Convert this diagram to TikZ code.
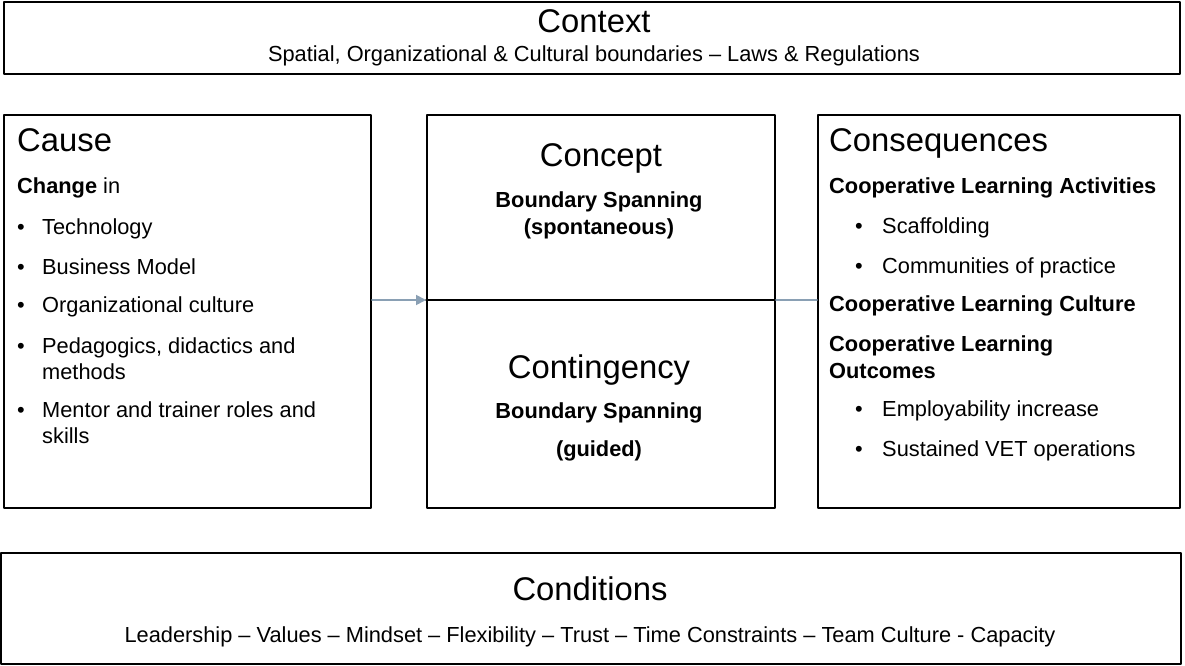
\documentclass[tikz,border=0pt]{standalone}
\usepackage{fontspec}
\setmainfont{Liberation Sans}
\usetikzlibrary{arrows.meta}
\definecolor{linkgray}{RGB}{138,160,180}
\newcommand{\titlesize}{\fontsize{32.8}{38}\selectfont}
\newcommand{\bodysize}{\fontsize{21.8}{25}\selectfont}

\begin{document}
\begin{tikzpicture}[line cap=round,line join=round,x=1pt,y=-1pt,
  box/.style={draw=black,line width=2pt,inner sep=0pt},
  txt/.style={inner sep=0pt,anchor=base west,font=\bodysize},
  ctxt/.style={inner sep=0pt,anchor=base,font=\bodysize},
  head/.style={inner sep=0pt,font=\titlesize}]
\useasboundingbox (0,0) rectangle (1185,666);
% boxes
\node[box,minimum width=1176,minimum height=72] (context) at (592,38) {};
\node[box,minimum width=367,minimum height=393] (cause) at (187.5,311.5) {};
\node[box,minimum width=348,minimum height=393] (concept) at (601,311.5) {};
\node[box,minimum width=362,minimum height=393] (conseq) at (999,311.5) {};
\node[box,minimum width=1180,minimum height=111] (conditions) at (591,608.5) {};
\coordinate (mid) at (0,300);
\draw [line width=2pt] (concept.west |- mid) -- (concept.east |- mid);
\draw [-{Triangle[length=10pt,width=10pt]},line width=1.8pt,color=linkgray] (cause.east |- mid) -- (concept.west |- mid);
\draw [line width=1.8pt,color=linkgray] (concept.east |- mid) -- (conseq.west |- mid);
% context
\node[head,anchor=base] (ctxtitle) at (594,33) {Context};
\node[ctxt] (ctxtsub) at (594,62) {Spatial, Organizational \& Cultural boundaries -- Laws \& Regulations};
% cause
\node[head,anchor=base west] (causetitle) at (17,151) {Cause};
\node[txt] (change) at (17,193) {\textbf{Change} in};
\node[txt] (b1) at (17,234) {•};
\node[txt] (t1) at (42,234) {Technology};
\node[txt] (b2) at (17,274) {•};
\node[txt] (t2) at (42,274) {Business Model};
\node[txt] (b3) at (17,312) {•};
\node[txt] (t3) at (42,312) {Organizational culture};
\node[txt] (b4) at (17,353) {•};
\node[txt] (t4) at (42,353) {Pedagogics, didactics and};
\node[txt] (t4b) at (42,379) {methods};
\node[txt] (b5) at (17,417) {•};
\node[txt] (t5) at (42,417) {Mentor and trainer roles and};
\node[txt] (t5b) at (42,443) {skills};
% concept
\node[head,anchor=base] (concepttitle) at (601,166) {Concept};
\node[ctxt] (bs1) at (599,207) {\textbf{Boundary Spanning}};
\node[ctxt] (spont) at (599,234) {\textbf{(spontaneous)}};
\node[head,anchor=base] (contitle) at (599,378) {Contingency};
\node[ctxt] (bs2) at (599,418) {\textbf{Boundary Spanning}};
\node[ctxt] (guided) at (599,456) {\textbf{(guided)}};
% consequences
\node[head,anchor=base west] (conseqtitle) at (829,151) {Consequences};
\node[txt] (cla) at (829,193) {\textbf{Cooperative Learning Activities}};
\node[txt] (c1) at (855,233) {•};
\node[txt] (s1) at (882,233) {Scaffolding};
\node[txt] (c2) at (855,273) {•};
\node[txt] (s2) at (882,273) {Communities of practice};
\node[txt] (clc) at (829,311) {\textbf{Cooperative Learning Culture}};
\node[txt] (clo) at (829,351) {\textbf{Cooperative Learning}};
\node[txt] (clob) at (829,378) {\textbf{Outcomes}};
\node[txt] (c3) at (855,416) {•};
\node[txt] (s3) at (882,416) {Employability increase};
\node[txt] (c4) at (855,456) {•};
\node[txt] (s4) at (882,456) {Sustained VET operations};
% conditions
\node[head,anchor=base] (condtitle) at (590,600) {Conditions};
\node[ctxt] (condsub) at (590,642) {Leadership -- Values -- Mindset -- Flexibility -- Trust -- Time Constraints -- Team Culture - Capacity};
\end{tikzpicture}
\end{document}
